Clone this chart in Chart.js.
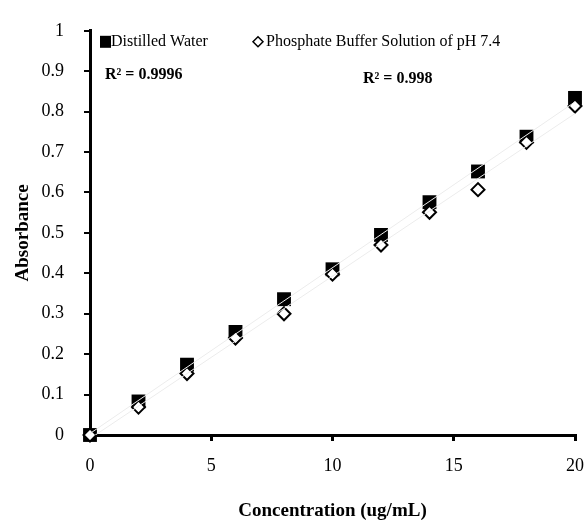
<!DOCTYPE html>
<html>
<head>
<meta charset="utf-8">
<script src="https://cdn.jsdelivr.net/npm/chart.js@4.4.1/dist/chart.umd.min.js"></script>
<style>
  body { margin: 0; background: #fff; }
  #wrap { width: 587px; height: 524px; }
</style>
</head>
<body>
<div id="wrap"><canvas id="chart" width="587" height="524"></canvas></div>
<script>
// values
const concentration = [0, 2, 4, 6, 8, 10, 12, 14, 16, 18, 20];
const distilledWater = [0, 0.083, 0.174, 0.255, 0.336, 0.41, 0.495, 0.576, 0.652, 0.738, 0.834];
const phosphateBuffer = [0, 0.069, 0.152, 0.24, 0.30, 0.398, 0.47, 0.551, 0.607, 0.724, 0.814];
const seriesNames = ["Distilled Water", "Phosphate Buffer Solution of pH 7.4"];
const rSquaredLabels = ["R² = 0.9996", "R² = 0.998"];

const serif = '"Liberation Serif", "Times New Roman", serif';

function toPoints(xs, ys) {
    return xs.map((x, i) => ({ x: x, y: ys[i] }));
}

// Excel-style linear trendline through the data
function trend(xs, ys) {
    let n = xs.length, sx = 0, sy = 0, sxy = 0, sxx = 0;
    for (let i = 0; i < n; i++) {
        sx += xs[i]; sy += ys[i]; sxy += xs[i] * ys[i]; sxx += xs[i] * xs[i];
    }
    let m = (n * sxy - sx * sy) / (n * sxx - sx * sx);
    let b = (sy - m * sx) / n;
    let x0 = xs[0], x1 = xs[n - 1];
    return [{ x: x0, y: m * x0 + b }, { x: x1, y: m * x1 + b }];
}

// legend and R² notes inside the plot
const notes = {
    id: "notes",
    afterDraw(chart) {
        const ctx = chart.ctx;
        const area = chart.chartArea;
        ctx.save();
        ctx.fillStyle = "#000";
        ctx.textBaseline = "middle";
        ctx.font = "16px " + serif;
        let y = area.top + 11;
        ctx.fillRect(area.left + 10, y - 6, 11, 12);
        ctx.fillText(seriesNames[0], area.left + 21, y);
        let dx = area.left + 168;
        ctx.beginPath();
        ctx.moveTo(dx, y - 5); ctx.lineTo(dx + 5, y); ctx.lineTo(dx, y + 5); ctx.lineTo(dx - 5, y);
        ctx.closePath();
        ctx.lineWidth = 1.5;
        ctx.stroke();
        ctx.fillText(seriesNames[1], dx + 8, y);
        ctx.font = "bold 16px " + serif;
        ctx.fillText(rSquaredLabels[0], area.left + 15, area.top + 44);
        ctx.fillText(rSquaredLabels[1], area.left + 273, area.top + 48);
        ctx.restore();
    }
};

const ctx = document.getElementById("chart");
new Chart(ctx, {
    type: "scatter",
    plugins: [notes],
    data: {
        datasets: [
            {
                label: "trend1",
                type: "line",
                data: trend(concentration, distilledWater),
                borderColor: "#ececec",
                borderWidth: 1,
                pointRadius: 0,
                order: 0
            },
            {
                label: "trend2",
                type: "line",
                data: trend(concentration, phosphateBuffer),
                borderColor: "#ececec",
                borderWidth: 1,
                pointRadius: 0,
                order: 0
            },
            {
                label: seriesNames[0],
                data: toPoints(concentration, distilledWater),
                pointStyle: "rect",
                pointRadius: 9.8,
                backgroundColor: "#000",
                borderColor: "#000",
                borderWidth: 0,
                clip: false,
                order: 3
            },
            {
                label: seriesNames[1],
                data: toPoints(concentration, phosphateBuffer),
                pointStyle: "rectRot",
                pointRadius: 6.5,
                backgroundColor: "#fff",
                borderColor: "#000",
                borderWidth: 2,
                clip: false,
                order: 2
            }
        ]
    },
    options: {
        responsive: false,
        animation: false,
        layout: { padding: { top: 27, right: 0, bottom: 0, left: 0 } },
        plugins: {
            legend: { display: false },
            tooltip: { enabled: false }
        },
        scales: {
            x: {
                type: "linear",
                min: 0,
                max: 20,
                afterFit: (s) => { s.height = 89; s.paddingRight = 12; },
                ticks: { stepSize: 5, color: "#000", padding: 14, font: { family: serif, size: 18 } },
                grid: { display: true, drawOnChartArea: false, tickLength: 6, tickColor: "#000", lineWidth: 3 },
                border: { display: true, color: "#000", width: 3 },
                title: {
                    display: true,
                    text: "Concentration (ug/mL)",
                    color: "#000",
                    padding: { bottom: 2 },
                    font: { family: serif, size: 19, weight: "bold" }
                }
            },
            y: {
                min: 0,
                max: 1,
                afterFit: (s) => { s.width = 90; },
                ticks: {
                    stepSize: 0.1,
                    color: "#000",
                    padding: 20,
                    font: { family: serif, size: 18 },
                    callback: (v) => String(Math.round(v * 10) / 10)
                },
                grid: { display: true, drawOnChartArea: false, tickLength: 6, tickColor: "#000", lineWidth: 2 },
                border: { display: true, color: "#000", width: 3 },
                title: {
                    display: true,
                    text: "Absorbance",
                    color: "#000",
                    padding: { top: 12 },
                    font: { family: serif, size: 19, weight: "bold" }
                }
            }
        }
    }
});
</script>
</body>
</html>
